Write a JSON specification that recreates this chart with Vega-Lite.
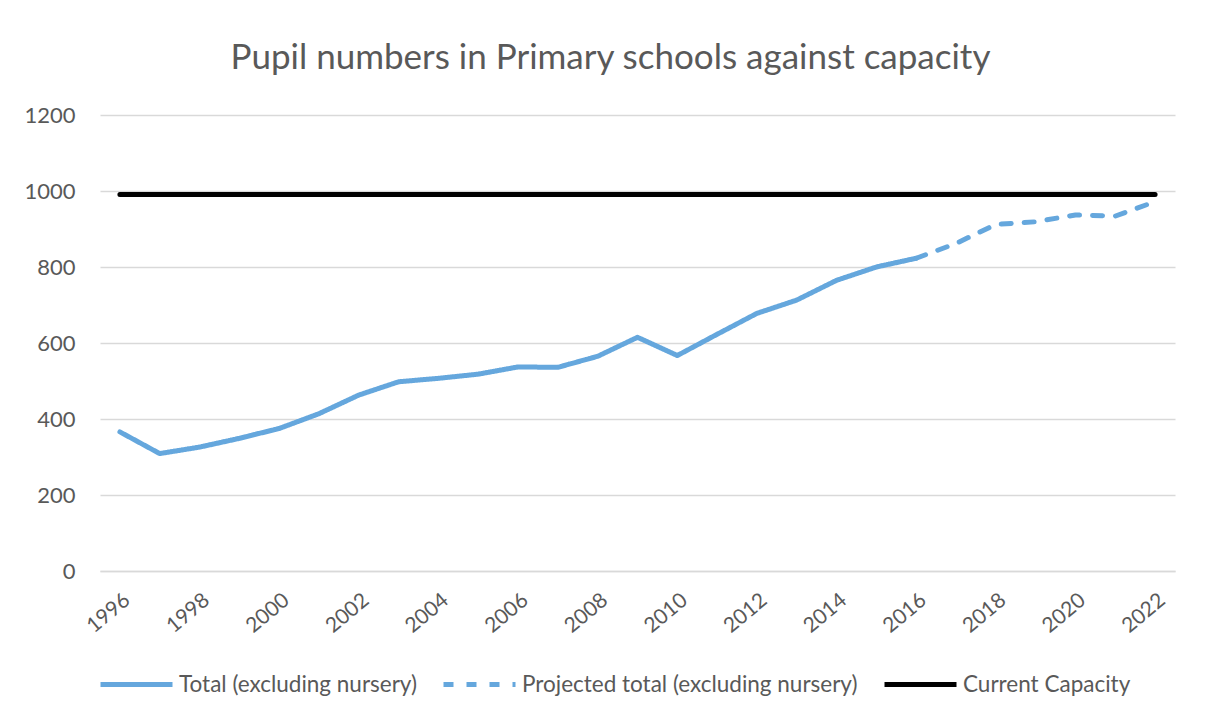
{
  "$schema": "https://vega.github.io/schema/vega-lite/v6.json",
  "autosize": "none",
  "width": 1075,
  "height": 456,
  "padding": {"left": 100, "top": 115, "right": 30, "bottom": 153},
  "background": "white",
  "config": {"view": {"stroke": null}, "font": "Lato"},
  "title": {"text": "Pupil numbers in Primary schools against capacity", "fontSize": 35, "fontWeight": "normal", "color": "#595959", "font": "Lato", "offset": 28, "dx": -27},
  "data": {"values": [
    {"year": 1996, "value": 366, "series": "Total (excluding nursery)"},
    {"year": 1997, "value": 309, "series": "Total (excluding nursery)"},
    {"year": 1998, "value": 326, "series": "Total (excluding nursery)"},
    {"year": 1999, "value": 349, "series": "Total (excluding nursery)"},
    {"year": 2000, "value": 375, "series": "Total (excluding nursery)"},
    {"year": 2001, "value": 414, "series": "Total (excluding nursery)"},
    {"year": 2002, "value": 463, "series": "Total (excluding nursery)"},
    {"year": 2003, "value": 498, "series": "Total (excluding nursery)"},
    {"year": 2004, "value": 507, "series": "Total (excluding nursery)"},
    {"year": 2005, "value": 518, "series": "Total (excluding nursery)"},
    {"year": 2006, "value": 537, "series": "Total (excluding nursery)"},
    {"year": 2007, "value": 536, "series": "Total (excluding nursery)"},
    {"year": 2008, "value": 565, "series": "Total (excluding nursery)"},
    {"year": 2009, "value": 615, "series": "Total (excluding nursery)"},
    {"year": 2010, "value": 567, "series": "Total (excluding nursery)"},
    {"year": 2011, "value": 623, "series": "Total (excluding nursery)"},
    {"year": 2012, "value": 678, "series": "Total (excluding nursery)"},
    {"year": 2013, "value": 713, "series": "Total (excluding nursery)"},
    {"year": 2014, "value": 765, "series": "Total (excluding nursery)"},
    {"year": 2015, "value": 800, "series": "Total (excluding nursery)"},
    {"year": 2016, "value": 823, "series": "Total (excluding nursery)"},
    {"year": 2016, "value": 823, "series": "Projected total (excluding nursery)"},
    {"year": 2017, "value": 862, "series": "Projected total (excluding nursery)"},
    {"year": 2018, "value": 912, "series": "Projected total (excluding nursery)"},
    {"year": 2019, "value": 919, "series": "Projected total (excluding nursery)"},
    {"year": 2020, "value": 937, "series": "Projected total (excluding nursery)"},
    {"year": 2021, "value": 934, "series": "Projected total (excluding nursery)"},
    {"year": 2022, "value": 972, "series": "Projected total (excluding nursery)"},
    {"year": 1996, "value": 991, "series": "Current Capacity"},
    {"year": 1997, "value": 991, "series": "Current Capacity"},
    {"year": 1998, "value": 991, "series": "Current Capacity"},
    {"year": 1999, "value": 991, "series": "Current Capacity"},
    {"year": 2000, "value": 991, "series": "Current Capacity"},
    {"year": 2001, "value": 991, "series": "Current Capacity"},
    {"year": 2002, "value": 991, "series": "Current Capacity"},
    {"year": 2003, "value": 991, "series": "Current Capacity"},
    {"year": 2004, "value": 991, "series": "Current Capacity"},
    {"year": 2005, "value": 991, "series": "Current Capacity"},
    {"year": 2006, "value": 991, "series": "Current Capacity"},
    {"year": 2007, "value": 991, "series": "Current Capacity"},
    {"year": 2008, "value": 991, "series": "Current Capacity"},
    {"year": 2009, "value": 991, "series": "Current Capacity"},
    {"year": 2010, "value": 991, "series": "Current Capacity"},
    {"year": 2011, "value": 991, "series": "Current Capacity"},
    {"year": 2012, "value": 991, "series": "Current Capacity"},
    {"year": 2013, "value": 991, "series": "Current Capacity"},
    {"year": 2014, "value": 991, "series": "Current Capacity"},
    {"year": 2015, "value": 991, "series": "Current Capacity"},
    {"year": 2016, "value": 991, "series": "Current Capacity"},
    {"year": 2017, "value": 991, "series": "Current Capacity"},
    {"year": 2018, "value": 991, "series": "Current Capacity"},
    {"year": 2019, "value": 991, "series": "Current Capacity"},
    {"year": 2020, "value": 991, "series": "Current Capacity"},
    {"year": 2021, "value": 991, "series": "Current Capacity"},
    {"year": 2022, "value": 991, "series": "Current Capacity"}
  ]},
  "mark": {"type": "line", "strokeWidth": 5, "strokeCap": "round", "strokeJoin": "round"},
  "encoding": {
    "x": {"field": "year", "type": "quantitative",
      "scale": {"domain": [1995.5, 2022.5], "nice": false, "zero": false},
      "axis": {"title": null, "values": [1996, 1998, 2000, 2002, 2004, 2006, 2008, 2010, 2012, 2014, 2016, 2018, 2020, 2022],
        "format": "d", "labelAngle": -40, "labelAlign": "right", "labelBaseline": "top", "labelPadding": 18,
        "labelFontSize": 21, "labelColor": "#595959", "labelFont": "Lato", "ticks": false, "grid": false,
        "domain": true, "domainColor": "#D9D9D9", "domainWidth": 1.5, "labelOverlap": false, "labelBound": false, "labelFlush": false}},
    "y": {"field": "value", "type": "quantitative",
      "scale": {"domain": [0, 1200], "nice": false},
      "axis": {"title": null, "values": [0, 200, 400, 600, 800, 1000, 1200], "format": "d", "labelFontSize": 22, "labelColor": "#595959", "labelFont": "Lato",
        "ticks": false, "domain": false, "grid": true, "gridColor": "#D9D9D9", "gridWidth": 1.5, "labelPadding": 25}},
    "color": {"field": "series", "type": "nominal",
      "scale": {"domain": ["Total (excluding nursery)", "Projected total (excluding nursery)", "Current Capacity"], "range": ["#65A7DD", "#65A7DD", "#000000"]},
      "legend": {"title": null, "orient": "none", "legendX": -2, "legendY": 531, "direction": "horizontal",
        "symbolType": "stroke", "symbolSize": 5184, "symbolStrokeWidth": 5, "labelFontSize": 22.5, "labelColor": "#595959", "labelFont": "Lato",
        "labelOffset": 4, "columnPadding": 16, "labelLimit": 500}},
    "strokeDash": {"field": "series", "type": "nominal",
      "scale": {"domain": ["Total (excluding nursery)", "Projected total (excluding nursery)", "Current Capacity"], "range": [[1, 0], [10, 13], [1, 0]]},
      "legend": null}
  }
}
